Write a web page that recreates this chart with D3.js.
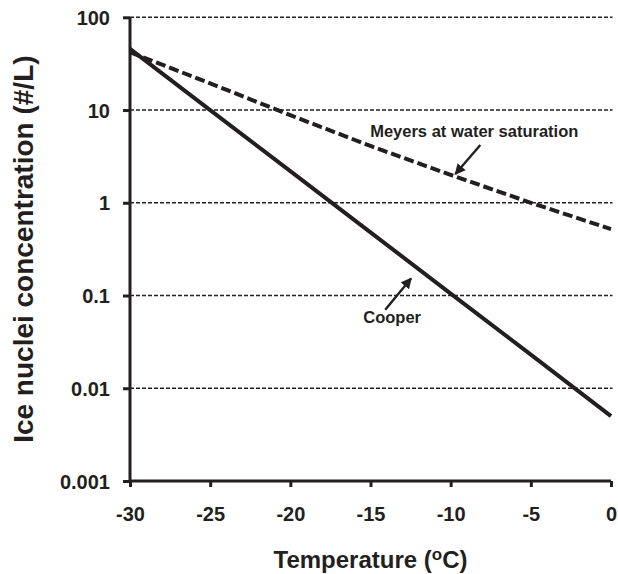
<!DOCTYPE html>
<html>
<head>
<meta charset="utf-8">
<script src="https://cdn.jsdelivr.net/npm/d3@7"></script>
<style>
  html, body { margin: 0; padding: 0; background: #fff; }
  svg text { font-family: "Liberation Sans", Arial, sans-serif; font-weight: bold; fill: #231f20; }
</style>
</head>
<body>
<svg id="chart" width="618" height="574"></svg>
<script>
// Temperature (°C) sample points
const temps = [-30, -25, -20, -15, -10, -5, 0];
// Cooper ice nuclei concentration (#/L)
const cooper = [45.7, 10.0, 2.19, 0.48, 0.105, 0.023, 0.005];
// Meyers ice nuclei concentration at water saturation (#/L)
const meyers = [42.0, 19.4, 8.8, 4.1, 2.0, 1.0, 0.52];

const xTicks = [-30, -25, -20, -15, -10, -5, 0];
const xTickLabels = ["-30", "-25", "-20", "-15", "-10", "-5", "0"];
const yTicks = [0.001, 0.01, 0.1, 1, 10, 100];
const yTickLabels = ["0.001", "0.01", "0.1", "1", "10", "100"];
const gridValues = [0.01, 0.1, 1, 10, 100];

const ink = "#231f20";
const svg = d3.select("#chart");
const margin = { left: 130, right: 7, top: 17.3, bottom: 93 };
const W = 618, H = 574;

const x = d3.scaleLinear().domain([-30, 0]).range([margin.left, W - margin.right]);
const y = d3.scaleLog().domain([0.001, 100]).range([H - margin.bottom, margin.top]);

// dashed horizontal gridlines
svg.append("g").selectAll("line").data(gridValues).join("line")
  .attr("x1", x(-30)).attr("x2", x(0) + 1.5)
  .attr("y1", d => y(d)).attr("y2", d => y(d))
  .attr("stroke", ink).attr("stroke-width", 1.4)
  .attr("stroke-dasharray", "4,2");

// axes
const xAxis = d3.axisBottom(x).tickValues(xTicks).tickSize(6)
  .tickFormat((d, i) => xTickLabels[i]);
const yAxis = d3.axisLeft(y).tickValues(yTicks).tickSize(7)
  .tickFormat((d, i) => yTickLabels[i]);

const gx = svg.append("g").attr("transform", `translate(0,${y(0.001)})`).call(xAxis);
const gy = svg.append("g").attr("transform", `translate(${x(-30)},0)`).call(yAxis);

[gx, gy].forEach(g => {
  g.select(".domain").attr("stroke", ink).attr("stroke-width", 3);
  g.selectAll(".tick line").attr("stroke", ink).attr("stroke-width", 3);
  g.selectAll(".tick text").attr("fill", ink).style("font-size", "20px")
    .style("font-family", "'Liberation Sans', Arial, sans-serif").style("font-weight", "bold");
});
gx.select(".domain").attr("d", `M${x(-30)},0H${x(0)}`);
gx.selectAll(".tick text").attr("dy", null).attr("y", 40);
gy.select(".domain").attr("d", `M0,${y(0.001) + 1.5}V${y(100)}`);
gy.selectAll(".tick text").attr("x", -20).attr("dy", "0.36em");

// series lines
const line = d3.line().x(d => x(d[0])).y(d => y(d[1]));
svg.append("path")
  .datum(temps.map((t, i) => [t, cooper[i]]))
  .attr("d", line).attr("fill", "none")
  .attr("stroke", ink).attr("stroke-width", 4);
svg.append("path")
  .datum(temps.map((t, i) => [t, meyers[i]]))
  .attr("d", line).attr("fill", "none")
  .attr("stroke", ink).attr("stroke-width", 4)
  .attr("stroke-dasharray", "10,4");

// arrowhead marker for the callouts
svg.append("defs").append("marker")
  .attr("id", "head").attr("viewBox", "0 0 10 10")
  .attr("refX", 9).attr("refY", 5)
  .attr("markerWidth", 4.5).attr("markerHeight", 4.5)
  .attr("markerUnits", "strokeWidth")
  .attr("orient", "auto")
  .append("path").attr("d", "M0,0L10,5L0,10z").attr("fill", ink);

function callout(label, tx, ty, fromT, fromN, toT, toN) {
  svg.append("text").attr("x", x(tx)).attr("y", y(ty))
    .style("font-size", "16.5px").text(label);
  svg.append("line")
    .attr("x1", x(fromT)).attr("y1", y(fromN))
    .attr("x2", x(toT)).attr("y2", y(toN))
    .attr("stroke", ink).attr("stroke-width", 2.4)
    .attr("marker-end", "url(#head)");
}
callout("Meyers at water saturation", -15.02, 5.15, -8.15, 4.19, -9.71, 2.04);
callout("Cooper", -15.45, 0.0504, -14.08, 0.0701, -12.47, 0.153);

// axis titles
const xt = svg.append("text")
  .attr("x", (x(-30) + x(0)) / 2).attr("y", 568)
  .attr("text-anchor", "middle").style("font-size", "24px");
xt.append("tspan").text("Temperature (");
xt.append("tspan").attr("dy", -8).style("font-size", "17px").text("o");
xt.append("tspan").attr("dy", 8).text("C)");

svg.append("text")
  .attr("transform", `translate(33,${(y(0.001) + y(100)) / 2}) rotate(-90)`)
  .attr("text-anchor", "middle").style("font-size", "28px")
  .text("Ice nuclei concentration (#/L)");
</script>
</body>
</html>
